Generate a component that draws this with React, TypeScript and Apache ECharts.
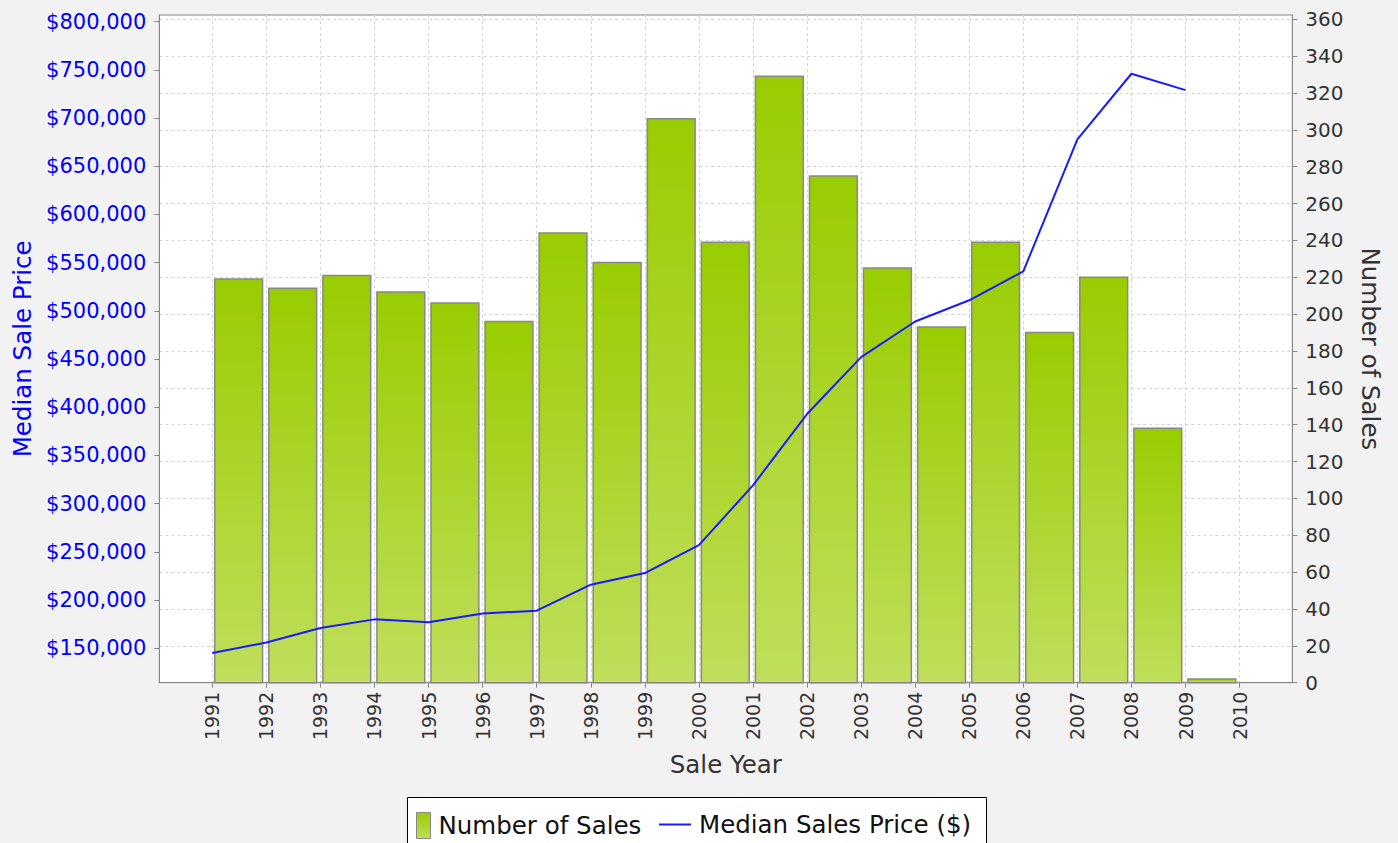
import React, { useEffect, useRef } from 'react';
import * as echarts from 'echarts';

const saleYears = [1991, 1992, 1993, 1994, 1995, 1996, 1997, 1998, 1999, 2000, 2001, 2002, 2003, 2004, 2005, 2006, 2007, 2008, 2009];
const numberOfSales = [219, 214, 221, 212, 206, 196, 244, 228, 306, 239, 329, 275, 225, 193, 239, 190, 220, 138, 2];
const medianPrice = [145000, 156000, 171000, 180000, 177000, 186000, 189000, 216000, 228000, 257000, 319000, 393000, 452000, 489000, 511000, 541000, 678000, 746000, 729000];

const yearTicks = [1991, 1992, 1993, 1994, 1995, 1996, 1997, 1998, 1999, 2000, 2001, 2002, 2003, 2004, 2005, 2006, 2007, 2008, 2009, 2010];
const priceTicks = [150000, 200000, 250000, 300000, 350000, 400000, 450000, 500000, 550000, 600000, 650000, 700000, 750000, 800000];
const salesTicks = [0, 20, 40, 60, 80, 100, 120, 140, 160, 180, 200, 220, 240, 260, 280, 300, 320, 340, 360];

const FONT = '"DejaVu Sans", sans-serif';

export default function App() {
  const ref = useRef<HTMLDivElement>(null);

  useEffect(() => {
    document.body.style.margin = '0';
    document.body.style.background = '#f2f2f2';
    const chart = echarts.init(ref.current!, undefined, { renderer: 'svg' });

    const barFill = new echarts.graphic.LinearGradient(0, 0, 0, 1, [
      { offset: 0, color: '#99cc00' },
      { offset: 1, color: '#c0de5c' },
    ]);

    const barData = saleYears.map((y, i) => [y, numberOfSales[i]]);
    const lineData = saleYears.map((y, i) => [y, medianPrice[i]]);

    const tickColor = '#333333';
    const lineColor = '#1a1aff';

    chart.setOption({
      animation: false,
      backgroundColor: '#f2f2f2',
      textStyle: { fontFamily: FONT },
      grid: {
        left: 159.3,
        right: 105.7,
        top: 15,
        bottom: 160.3,
        show: true,
        backgroundColor: '#ffffff',
        borderColor: '#888888',
        borderWidth: 1,
      },
      xAxis: {
        type: 'value',
        min: 1990.02,
        max: 2010.975,
        axisLine: { show: true, onZero: false, lineStyle: { color: '#888888' } },
        axisTick: { show: true, length: 5, customValues: yearTicks, lineStyle: { color: '#888888' } },
        axisLabel: {
          customValues: yearTicks,
          rotate: 90,
          margin: 9,
          fontSize: 19,
          fontFamily: FONT,
          color: tickColor,
          formatter: (v: number) => String(v),
        },
        splitLine: { show: true, lineStyle: { color: '#d4d4d4', type: [3, 3], width: 1 } },
        name: 'Sale Year',
        nameLocation: 'middle',
        nameGap: 69,
        nameTextStyle: { fontSize: 24.5, color: tickColor, fontFamily: FONT },
      },
      yAxis: [
        {
          type: 'value',
          position: 'left',
          min: 114300,
          max: 806950,
          axisLine: { show: true, lineStyle: { color: '#888888' } },
          axisTick: { show: true, length: 5, customValues: priceTicks, lineStyle: { color: '#888888' } },
          axisLabel: {
            customValues: priceTicks,
            margin: 13,
            fontSize: 21,
            fontFamily: FONT,
            color: '#0000ff',
            formatter: (v: number) => '$' + v.toLocaleString('en-US'),
          },
          splitLine: { show: false },
          name: 'Median Sale Price',
          nameLocation: 'middle',
          nameGap: 122,
          nameTextStyle: { fontSize: 24.5, color: '#0000ff', fontFamily: FONT },
        },
        {
          type: 'value',
          position: 'right',
          min: 0,
          max: 362.3,
          axisLine: { show: true, lineStyle: { color: '#888888' } },
          axisTick: { show: true, length: 5, customValues: salesTicks, lineStyle: { color: '#888888' } },
          axisLabel: {
            customValues: salesTicks,
            margin: 13,
            fontSize: 20,
            fontFamily: FONT,
            color: tickColor,
          },
          splitLine: { show: true, lineStyle: { color: '#d4d4d4', type: [3, 3], width: 1 } },
          name: 'Number of Sales',
          nameLocation: 'middle',
          nameRotate: -90,
          nameGap: 66,
          nameTextStyle: { fontSize: 24.5, color: tickColor, fontFamily: FONT },
        },
      ],
      legend: [
        {
          data: [
            {
              name: 'Number of Sales',
              icon: 'rect',
              itemStyle: { color: barFill, borderColor: '#888888', borderWidth: 1 },
            },
          ],
          left: 416,
          top: 812,
          padding: 0,
          itemWidth: 14,
          itemHeight: 26,
          textStyle: { fontSize: 24.5, color: '#111111', fontFamily: FONT, padding: [0, 0, 0, 3] },
        },
        {
          data: [
            {
              name: 'Median Sales Price ($)',
              icon: 'rect',
              itemStyle: { color: lineColor, borderWidth: 0 },
            },
          ],
          left: 659,
          top: 812,
          padding: 0,
          itemWidth: 32,
          itemHeight: 2,
          textStyle: { fontSize: 24.5, color: '#111111', fontFamily: FONT, padding: [0, 0, 0, 3] },
        },
      ],
      graphic: [
        {
          type: 'rect',
          z: -1,
          shape: { x: 407.5, y: 797.5, width: 579, height: 60 },
          style: { fill: '#ffffff', stroke: '#000000', lineWidth: 1 },
        },
      ],
      series: [
        {
          name: 'Number of Sales',
          type: 'custom',
          xAxisIndex: 0,
          yAxisIndex: 1,
          encode: { x: 0, y: 1 },
          data: barData,
          renderItem: (params: any, api: any) => {
            const x = api.value(0);
            const v = api.value(1);
            const p0 = api.coord([x + 0.045, v]);
            const p1 = api.coord([x + 0.93, 0]);
            return {
              type: 'rect',
              shape: { x: p0[0], y: p0[1], width: p1[0] - p0[0], height: p1[1] - p0[1] },
              style: { fill: barFill, stroke: '#888888', lineWidth: 1.5 },
            };
          },
          z: 2,
        },
        {
          name: 'Median Sales Price ($)',
          type: 'line',
          xAxisIndex: 0,
          yAxisIndex: 0,
          data: lineData,
          symbol: 'none',
          showSymbol: false,
          lineStyle: { color: lineColor, width: 2 },
          itemStyle: { color: lineColor },
          z: 3,
        },
      ],
    });

    return () => chart.dispose();
  }, []);

  return <div ref={ref} style={{ width: 1398, height: 843 }} />;
}
